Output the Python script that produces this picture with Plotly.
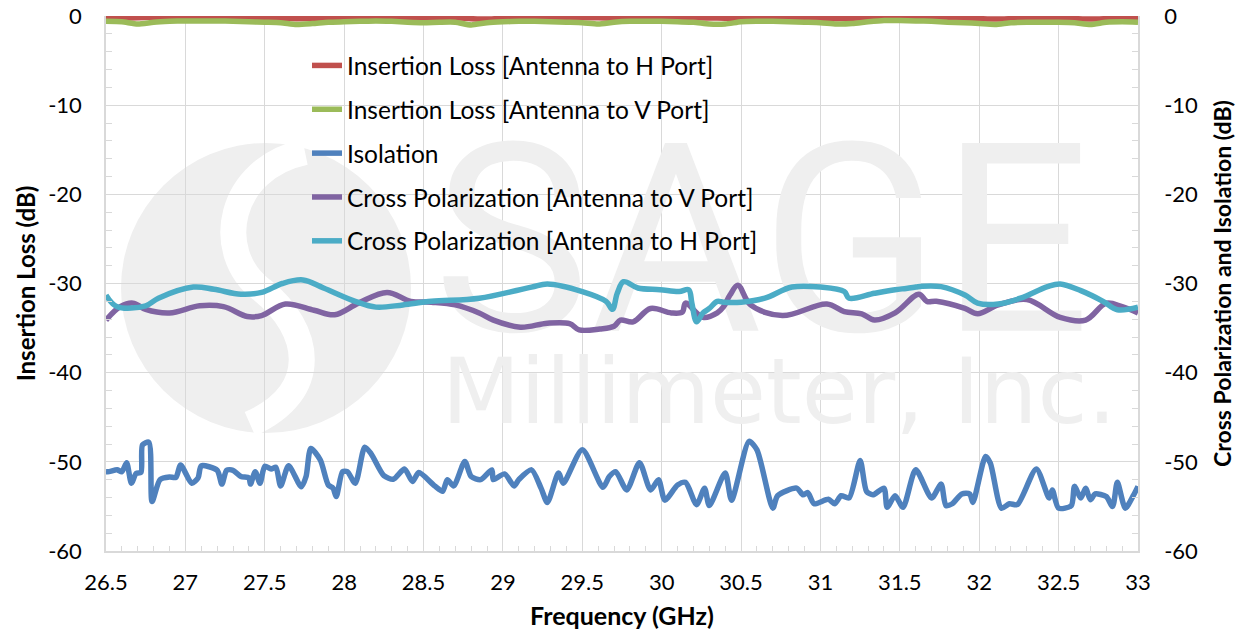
import plotly.graph_objects as go

# ---------------- data ----------------
freq_il = [26.5, 26.6, 26.7, 26.8, 26.9, 27.0, 27.1, 27.2, 27.3, 27.4, 27.5,
           27.6, 27.7, 27.8, 27.9, 28.0, 28.1, 28.2, 28.3, 28.4, 28.5,
           28.6, 28.7, 28.8, 28.9, 29.0, 29.1, 29.2, 29.3, 29.4, 29.5,
           29.6, 29.7, 29.8, 29.9, 30.0, 30.1, 30.2, 30.3, 30.4, 30.5,
           30.6, 30.7, 30.8, 30.9, 31.0, 31.1, 31.2, 31.3, 31.4, 31.5,
           31.6, 31.7, 31.8, 31.9, 32.0, 32.1, 32.2, 32.3, 32.4, 32.5,
           32.6, 32.7, 32.8, 32.9, 33.0]
il_h = [-0.25, -0.25, -0.2, -0.15, -0.12, -0.12, -0.12, -0.13, -0.15, -0.18, -0.2,
        -0.25, -0.3, -0.28, -0.25, -0.25, -0.22, -0.18, -0.12, -0.15, -0.2,
        -0.25, -0.2, -0.3, -0.35, -0.25, -0.2, -0.22, -0.28, -0.25, -0.2,
        -0.2, -0.25, -0.2, -0.15, -0.2, -0.25, -0.2, -0.22, -0.25, -0.3,
        -0.25, -0.2, -0.15, -0.2, -0.25, -0.3, -0.25, -0.2, -0.15, -0.1,
        -0.1, -0.15, -0.2, -0.25, -0.3, -0.35, -0.3, -0.3, -0.3, -0.25,
        -0.3, -0.35, -0.3, -0.3, -0.3]
il_v = [-0.6, -0.65, -0.9, -0.7, -0.6, -0.55, -0.55, -0.55, -0.6, -0.65, -0.7,
        -0.75, -0.95, -0.85, -0.7, -0.65, -0.6, -0.55, -0.6, -0.7, -0.75,
        -0.7, -0.7, -1.0, -0.75, -0.65, -0.6, -0.6, -0.65, -0.7, -0.75,
        -0.9, -0.7, -0.6, -0.6, -0.6, -0.65, -0.7, -0.9, -0.9, -0.65,
        -0.6, -0.6, -0.65, -0.7, -0.75, -0.9, -0.85, -0.65, -0.5, -0.5,
        -0.55, -0.6, -0.7, -0.75, -0.85, -0.95, -0.75, -0.7, -0.7, -0.7,
        -0.75, -0.95, -0.7, -0.65, -0.7]

freq_iso = [26.5, 26.52, 26.57, 26.60, 26.63, 26.66, 26.69, 26.72, 26.73, 26.77, 26.79,
            26.84, 26.90, 26.94, 26.97, 27.04, 27.08, 27.10, 27.20, 27.23, 27.26,
            27.30, 27.35, 27.40, 27.41, 27.44, 27.47, 27.50, 27.54, 27.57, 27.60,
            27.65, 27.73, 27.76, 27.79, 27.85, 27.90, 27.93, 27.95, 27.99, 28.02,
            28.07, 28.13, 28.17, 28.25, 28.31, 28.38, 28.43, 28.47, 28.57, 28.62,
            28.65, 28.69, 28.76, 28.80, 28.86, 28.93, 28.94, 29.01, 29.07, 29.10,
            29.18, 29.24, 29.28, 29.35, 29.38, 29.50, 29.63, 29.67, 29.71, 29.78,
            29.86, 29.93, 29.98, 30.02, 30.10, 30.15, 30.22, 30.27, 30.30, 30.40,
            30.44, 30.55, 30.60, 30.70, 30.73, 30.85, 30.89, 30.92, 30.96, 31.05,
            31.09, 31.13, 31.18, 31.25, 31.29, 31.33, 31.40, 31.42, 31.47, 31.52,
            31.60, 31.70, 31.76, 31.79, 31.83, 31.89, 31.94, 31.96, 32.04, 32.07,
            32.14, 32.19, 32.24, 32.36, 32.44, 32.46, 32.50, 32.58, 32.60, 32.64,
            32.67, 32.70, 32.73, 32.80, 32.84, 32.87, 32.92, 32.97, 33.00]
isolation = [-51.1, -51.1, -50.9, -51.1, -50.1, -52.4, -51.3, -51.2, -48.1, -47.8, -54.45,
             -52.0, -51.7, -51.75, -50.35, -52.4, -51.8, -50.45, -50.95, -52.5, -50.95,
             -50.95, -51.65, -51.8, -52.5, -51.1, -52.4, -50.5, -50.8, -50.6, -52.7,
             -50.45, -52.8, -51.65, -48.5, -49.8, -52.6, -52.95, -53.9, -51.1, -51.1,
             -52.4, -48.35, -49.1, -51.55, -51.95, -50.8, -52.2, -51.2, -52.7, -53.3,
             -52.0, -52.7, -49.95, -51.65, -52.0, -50.9, -52.0, -51.35, -52.7, -52.0,
             -50.9, -52.95, -54.55, -51.25, -52.4, -48.65, -52.85, -51.65, -51.1, -53.15,
             -50.1, -53.15, -52.0, -54.3, -52.6, -52.3, -54.8, -52.95, -54.9, -51.25,
             -54.3, -47.7, -48.65, -55.2, -53.8, -52.95, -53.7, -53.45, -54.7, -54.2,
             -54.7, -53.8, -54.05, -49.85, -53.3, -53.7, -52.95, -55.1, -53.8, -55.1,
             -50.9, -54.05, -52.5, -54.9, -54.7, -53.6, -53.6, -54.55, -49.4, -50.15,
             -55.2, -54.7, -54.8, -50.8, -54.05, -53.15, -55.2, -54.9, -52.75, -54.05,
             -52.95, -54.25, -53.6, -53.9, -55.0, -52.3, -55.2, -53.8, -52.75]

freq_xp_v = [26.5, 26.59, 26.67, 26.75, 26.9, 27.09, 27.24, 27.39, 27.48, 27.63, 27.81,
             27.94, 28.09, 28.27, 28.42, 28.55, 28.7, 28.85, 28.94, 29.11, 29.28,
             29.42, 29.48, 29.61, 29.7, 29.74, 29.82, 29.93, 30.06, 30.13, 30.15,
             30.26, 30.35, 30.39, 30.43, 30.48, 30.56, 30.76, 31.04, 31.15, 31.26,
             31.34, 31.47, 31.62, 31.67, 31.73, 31.91, 31.99, 32.12, 32.3, 32.51,
             32.67, 32.8, 32.9, 33.0]
xpol_v = [-34.1, -32.6, -32.2, -32.9, -33.3, -32.5, -32.6, -33.7, -33.6, -32.3, -33.0,
          -33.5, -32.2, -31.0, -32.0, -32.1, -32.4, -33.3, -34.1, -34.9, -34.45,
          -34.5, -35.2, -35.1, -34.8, -34.1, -34.3, -32.8, -33.3, -33.2, -32.2,
          -33.8, -33.3, -32.6, -31.3, -30.2, -32.4, -33.6, -32.3, -33.15, -33.4,
          -34.1, -33.3, -31.2, -32.0, -32.0, -32.8, -33.4, -32.4, -31.8, -33.8,
          -34.1, -32.2, -32.6, -33.3]

freq_xp_h = [26.5, 26.57, 26.75, 26.83, 27.05, 27.18, 27.35, 27.48, 27.61, 27.74, 27.87,
             28.07, 28.2, 28.37, 28.55, 28.85, 29.18, 29.28, 29.5, 29.65, 29.69,
             29.72, 29.76, 29.85, 29.99, 30.11, 30.17, 30.19, 30.22, 30.26, 30.30,
             30.35, 30.39, 30.50, 30.65, 30.82, 31.0, 31.15, 31.18, 31.34, 31.47,
             31.54, 31.6, 31.64, 31.76, 31.91, 31.99, 32.12, 32.26, 32.43, 32.51,
             32.64, 32.78, 32.87, 33.0]
xpol_h = [-31.3, -32.6, -32.5, -31.65, -30.4, -30.65, -31.2, -31.0, -30.0, -29.6, -30.5,
          -32.0, -32.65, -32.4, -32.0, -31.65, -30.4, -30.05, -30.9, -32.0, -32.9,
          -31.1, -29.8, -30.5, -30.7, -30.9, -30.7, -32.2, -34.3, -33.3, -32.8,
          -32.0, -32.1, -32.1, -31.65, -30.4, -30.4, -30.9, -31.65, -31.1, -30.7,
          -30.55, -30.4, -30.3, -30.35, -31.3, -32.2, -32.3, -31.65, -30.35, -30.05,
          -30.8, -32.0, -32.95, -32.66]

x_ticks = [26.5, 27, 27.5, 28, 28.5, 29, 29.5, 30, 30.5, 31, 31.5, 32, 32.5, 33]
x_tick_labels = ["26.5", "27", "27.5", "28", "28.5", "29", "29.5", "30", "30.5",
                 "31", "31.5", "32", "32.5", "33"]
y_ticks = [0, -10, -20, -30, -40, -50, -60]
y_tick_labels = ["0", "-10", "-20", "-30", "-40", "-50", "-60"]

names = ["Insertion Loss [Antenna to H Port]", "Insertion Loss [Antenna to V Port]",
         "Isolation", "Cross Polarization [Antenna to V Port]",
         "Cross Polarization [Antenna to H Port]"]
colors = ["#C0504D", "#9BBB59", "#4F81BD", "#8064A2", "#4BACC6"]

# ---------------- figure ----------------
W, H = 1246, 633
OFF = 8  # page offset of the plot div
ML, MR, MT, MB = 106 - OFF, 108 + OFF, 16 - OFF, 82 + OFF
FONT = "Lato"
GRID = "#d9d9d9"
WM = "#efefef"
TICKSIZE = 22

def px2paper(px, py):
    return (px - OFF - ML) / (W - ML - MR), (H - MB - (py - OFF)) / (H - MT - MB)

fig = go.Figure()

# watermark text (drawn beneath data)
fig.add_trace(go.Scatter(x=[30.63], y=[-27.9], mode="text", text=["SAGE"],
                         textfont=dict(family="Roboto", size=264, color=WM),
                         showlegend=False, hoverinfo="skip"))
fig.add_trace(go.Scatter(x=[30.74], y=[-43.05], mode="text", text=["Millimeter, Inc."],
                         textfont=dict(family="DejaVu Sans", size=91, color=WM),
                         showlegend=False, hoverinfo="skip"))

series = [(freq_il, il_h, "y", 0.6), (freq_il, il_v, "y", 0.6),
          (freq_iso, isolation, "y2", 0.7),
          (freq_xp_v, xpol_v, "y2", 1.0), (freq_xp_h, xpol_h, "y2", 1.0)]
for i, (xs, ys, ax, sm) in enumerate(series):
    fig.add_trace(go.Scatter(x=xs, y=ys, mode="lines", name=names[i], yaxis=ax,
                             legendgroup=f"g{i}",
                             line=dict(color=colors[i], width=5.5, shape="spline",
                                       smoothing=sm)))

# watermark logo circle + swoosh
cx0, cy0 = px2paper(121, 433)
cx1, cy1 = px2paper(411, 143)
shapes = [dict(type="circle", xref="paper", yref="paper", x0=cx0, y0=cy0, x1=cx1, y1=cy1,
               fillcolor=WM, line=dict(width=0), layer="below")]
pts = [(305, 152), (228, 168), (212, 252), (262, 290), (312, 330), (322, 392), (250, 424)]
pp = [px2paper(a, b) for a, b in pts]
path = "M {},{} C {},{} {},{} {},{} C {},{} {},{} {},{}".format(
    *[v for p in pp for v in p])
shapes.append(dict(type="path", xref="paper", yref="paper", path=path,
                   line=dict(color="white", width=26), layer="below"))

axis_common = dict(showline=True, linecolor=GRID, linewidth=1.5, showgrid=True,
                   gridcolor=GRID, gridwidth=1.3, zeroline=False, automargin=False,
                   ticklabeloverflow="allow",
                   tickfont=dict(family=FONT, size=TICKSIZE, color="black"))

lx, ly = px2paper(307, 43)

fig.update_layout(
    width=W, height=H,
    margin=dict(l=ML, r=MR, t=MT, b=MB, pad=0, autoexpand=False),
    paper_bgcolor="white", plot_bgcolor="white",
    font=dict(family=FONT, color="black"),
    shapes=shapes,
    showlegend=True,
    legend=dict(x=lx, y=ly, xanchor="left", yanchor="top",
                bgcolor="rgba(0,0,0,0)", font=dict(family=FONT, size=24.5, color="black"),
                tracegroupgap=9, traceorder="grouped", itemwidth=30),
    xaxis=dict(range=[26.5, 33], tickvals=x_ticks, ticktext=x_tick_labels,
               ticks="inside", ticklen=5, tickcolor=GRID,
               minor=dict(dtick=0.1, ticks="inside", ticklen=5, tickcolor=GRID, showgrid=False),
               ticklabelstandoff=11,
               title=dict(text="<b>Frequency (GHz)</b>", font=dict(family=FONT, size=25), standoff=13),
               **axis_common),
    yaxis=dict(range=[-60, 0], tickvals=y_ticks, ticktext=y_tick_labels,
               ticks="inside", ticklen=6, tickcolor=GRID,
               minor=dict(dtick=2, ticks="inside", ticklen=6, tickcolor=GRID, showgrid=False),
               ticklabelstandoff=18,
               title=dict(text="<b>Insertion Loss (dB)</b>", font=dict(family=FONT, size=24), standoff=6),
               **axis_common),
    yaxis2=dict(range=[-60, 0], tickvals=y_ticks, ticktext=y_tick_labels,
                overlaying="y", side="right",
                ticks="inside", ticklen=6, tickcolor=GRID,
                minor=dict(dtick=2, ticks="inside", ticklen=6, tickcolor=GRID, showgrid=False),
                ticklabelstandoff=20,
                title=dict(text="<b>Cross Polarization and Isolation (dB)</b>",
                           font=dict(family=FONT, size=23), standoff=18),
                showline=True, linecolor=GRID, linewidth=1.5, showgrid=False, zeroline=False,
                automargin=False, ticklabeloverflow="allow",
                tickfont=dict(family=FONT, size=TICKSIZE, color="black")),
)

fig.write_html("out.html")
